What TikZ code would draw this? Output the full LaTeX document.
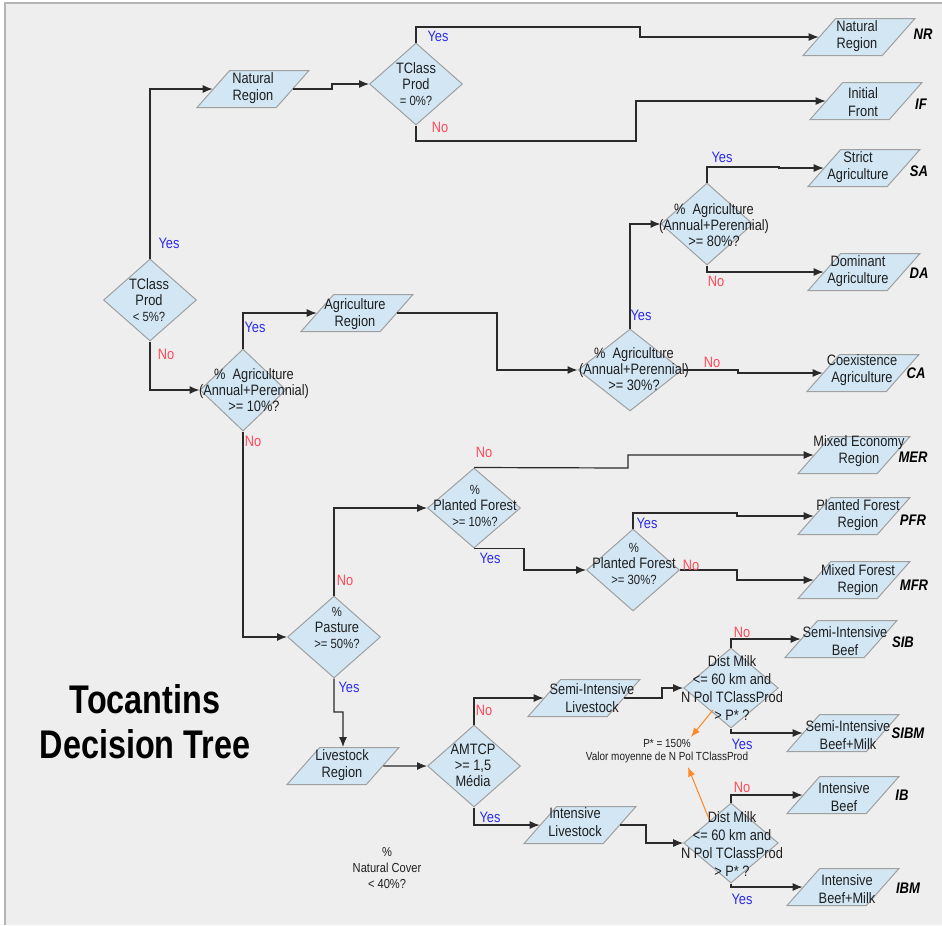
\documentclass[tikz,border=0pt]{standalone}
\usepackage{fontspec}
\setmainfont{Liberation Sans}[FakeStretch=0.85]
\newfontfamily\titlefont{Liberation Sans}[FakeStretch=0.81]
\usetikzlibrary{shapes.geometric,arrows.meta,calc}
\definecolor{bgc}{HTML}{EEEEEE}
\definecolor{framec}{HTML}{B4B4B4}
\definecolor{shfill}{HTML}{D2E6F4}
\definecolor{shdraw}{HTML}{A0A0A0}
\definecolor{linec}{HTML}{2A2A2A}
\definecolor{yesc}{HTML}{2A2AF0}
\definecolor{noc}{HTML}{FF4A5A}
\definecolor{orng}{HTML}{FF8A2A}
\newcommand{\smx}{\fontsize{10}{12}\selectfont}
\tikzset{
  dia/.style={diamond, draw=shdraw, fill=shfill, line width=0.75pt, inner sep=0pt,
    minimum width=69.75pt, minimum height=61.5pt},
  para/.style={trapezium, trapezium left angle=59, trapezium right angle=121,
    trapezium stretches=true, draw=shdraw, fill=shfill, line width=0.75pt, inner sep=1pt,
    minimum width=84pt, minimum height=27.75pt},
  txt/.style={align=center, inner sep=0pt, text=black!88, font=\fontsize{11.3}{12}\selectfont},
  ptxt/.style={align=center, inner sep=0pt, text=black!88, font=\fontsize{11.3}{13}\selectfont},
  dtxt/.style={align=center, inner sep=0pt, text=black!88, font=\fontsize{11.3}{13.5}\selectfont},
  yes/.style={inner sep=0pt, text=yesc, font=\fontsize{11.3}{12}\selectfont},
  no/.style={inner sep=0pt, text=noc, font=\fontsize{11.3}{12}\selectfont},
  code/.style={inner sep=0pt, font=\fontsize{11.5}{12}\selectfont\bfseries\itshape},
  arr/.style={draw=linec, line width=0.9pt, -{Latex[length=7.5pt,width=6pt]}},
  oarr/.style={draw=orng, line width=0.8pt, -{Latex[length=7pt,width=5.5pt]}, color=orng},
}
\newcommand{\ph}{\phantom{x}}
\begin{document}
\begin{tikzpicture}[x=0.75pt,y=-0.75pt]
\useasboundingbox (0,0) rectangle (942,925);
\fill[white] (0,0) rectangle (942,925);
\fill[bgc] (5,3) rectangle (942,925);
\draw[framec, line width=1.5pt] (5,925) -- (5,3) -- (942,3);

% ---------- diamonds ----------
\node[dia] (d1) at (150,300) {};
\node[dia] (d2) at (416,84) {};
\node[dia, minimum width=64.5pt] (d3) at (243,390) {};
\node[dia, minimum width=78pt] (d4) at (630,370) {};
\node[dia, minimum width=69pt] (d5) at (707,224) {};
\node[dia, minimum height=60pt] (d6) at (474,508) {};
\node[dia] (d7) at (633,570) {};
\node[dia] (d8) at (334,637) {};
\node[dia] (d9) at (474,766) {};
\node[dia, minimum width=71pt, minimum height=60pt] (d10) at (731,688) {};
\node[dia, minimum width=71pt, minimum height=60pt] (d11) at (731,843) {};

\node[txt] (t1) at (149,300) {TClass\\Prod\\{\smx < 5\%?}};
\node[txt] (t2) at (416,84) {TClass\\Prod\\{\smx = 0\%?}};
\node[txt] (t3) at (254,390) {\%\ \ Agriculture\\(Annual+Perennial)\\>= 10\%?};
\node[txt] (t4) at (634,369) {\%\ \ Agriculture\\(Annual+Perennial)\\>= 30\%?};
\node[txt] (t5) at (714,225) {\%\ \ Agriculture\\(Annual+Perennial)\\>= 80\%?};
\node[txt] (t6) at (475,506) {{\smx \%}\\Planted Forest\\{\smx >= 10\%?}};
\node[txt] (t7) at (634,564) {{\smx \%}\\Planted Forest\\{\smx >= 30\%?}};
\node[txt] (t8) at (337,628) {{\smx \%}\\Pasture\\{\smx >= 50\%?}};
\node[txt] (t9) at (473,765) {AMTCP\\>= 1,5\\Média};
\node[dtxt] (t10) at (732,688) {Dist Milk\\<= 60 km and\\N Pol TClassProd\\> P* ?};
\node[dtxt] (t11) at (732,844) {Dist Milk\\<= 60 km and\\N Pol TClassProd\\> P* ?};

% ---------- parallelograms ----------
\node[para] (nat) at (253,89) {\ph};
\node[para] (agr) at (357,313) {\ph};
\node[para] (lr) at (343,766) {\ph};
\node[para] (sil) at (584,698) {\ph};
\node[para] (il) at (580,825) {\ph};
\node[para] (nr) at (859,37) {\ph};
\node[para] (if) at (866,101) {\ph};
\node[para] (sa) at (864,168) {\ph};
\node[para] (da) at (864,272) {\ph};
\node[para] (ca) at (863,373) {\ph};
\node[para] (mer) at (854,455) {\ph};
\node[para] (pfr) at (854,516) {\ph};
\node[para] (mfr) at (854,580) {\ph};
\node[para] (sib) at (841,639) {\ph};
\node[para] (sibm) at (843,733) {\ph};
\node[para] (ib) at (843,795) {\ph};
\node[para] (ibm) at (843,887) {\ph};

\node[ptxt] (tnat) at (253,88) {Natural\\Region};
\node[ptxt] (tagr) at (355,314) {Agriculture\\Region};
\node[ptxt] (tlr) at (342,765) {Livestock\\Region};
\node[ptxt] (tsil) at (592,698) {Semi-Intensive\\Livestock};
\node[ptxt] (til) at (575,822) {Intensive\\Livestock};
\node[ptxt] (tnr) at (857,36) {Natural\\Region};
\node[ptxt] (tif) at (863,102) {Initial\\Front};
\node[ptxt] (tsa) at (858,167) {Strict\\Agriculture};
\node[ptxt] (tda) at (858,271) {Dominant\\Agriculture};
\node[ptxt] (tca) at (862,370) {Coexistence\\Agriculture};
\node[ptxt] (tmer) at (859,451) {Mixed Economy\\Region};
\node[ptxt] (tpfr) at (858,515) {Planted Forest\\Region};
\node[ptxt] (tmfr) at (858,580) {Mixed Forest\\Region};
\node[ptxt] (tsib) at (845,641) {Semi-Intensive\\Beef};
\node[ptxt] (tsibm) at (848,735) {Semi-Intensive\\Beef+Milk};
\node[ptxt] (tib) at (844,797) {Intensive\\Beef};
\node[ptxt] (tibm) at (847,889) {Intensive\\Beef+Milk};

% ---------- codes ----------
\node[code] (cnr) at (923,34) {NR};
\node[code] (cif) at (921,104) {IF};
\node[code] (csa) at (919,171) {SA};
\node[code] (cda) at (919,273) {DA};
\node[code] (cca) at (916,373) {CA};
\node[code] (cmer) at (913,457) {MER};
\node[code] (cpfr) at (913,520) {PFR};
\node[code] (cmfr) at (914,585) {MFR};
\node[code] (csib) at (903,642) {SIB};
\node[code] (csibm) at (908,733) {SIBM};
\node[code] (cib) at (902,795) {IB};
\node[code] (cibm) at (908,888) {IBM};

% ---------- connectors ----------
\draw[arr] (d1.north) |- (nat.west);
\draw[arr] (d1.south) |- (d3.west);
\draw[arr] (nat.east) -| (332,84) -- (d2.west);
\draw[arr] (d2.north) |- (640,27) |- (nr.west);
\draw[arr] (d2.south) |- (636,141) |- (if.west);
\draw[arr] (d3.north) |- (agr.west);
\draw[arr] (d3.south) |- (d8.west);
\draw[arr] (agr.east) -| (497,370) -- (d4.west);
\draw[arr] (d4.north) |- (d5.west);
\draw[arr] (d4.east) -- (738,370) |- (ca.west);
\draw[arr] (d5.north) |- (779,167) |- (sa.west);
\draw[arr] (d5.south) |- (da.west);
\draw[arr] (d8.north) |- (d6.west);
\draw[arr] (d6.north) -- (628,468) |- (mer.west);
\draw[arr] (d6.south) -| (524,570) -- (d7.west);
\draw[arr] (d7.north) |- (737,513) |- (pfr.west);
\draw[arr] (d7.east) -- (737,570) |- (mfr.west);
\draw[arr] (d8.south) |- (343,712) -- (lr.north);
\draw[arr] (lr.east) -- (d9.west);
\draw[arr] (d9.north) |- (sil.west);
\draw[arr] (d9.south) |- (il.west);
\draw[arr] (sil.east) -| (662,688) -- (d10.west);
\draw[arr] (il.east) -| (646,843) -- (d11.west);
\draw[arr] (d10.north) |- (sib.west);
\draw[arr] (d10.south) |- (sibm.west);
\draw[arr] (d11.north) |- (ib.west);
\draw[arr] (d11.south) |- (ibm.west);

% ---------- yes / no ----------
\node[yes] (y1) at (169,243) {Yes};
\node[no] (n1) at (166,354) {No};
\node[yes] (y2) at (438,36) {Yes};
\node[no] (n2) at (440,127) {No};
\node[yes] (y3) at (255,327) {Yes};
\node[no] (n3) at (253,441) {No};
\node[yes] (y4) at (641,315) {Yes};
\node[no] (n4) at (712,362) {No};
\node[yes] (y5) at (722,157) {Yes};
\node[no] (n5) at (716,281) {No};
\node[no] (n6) at (484,452) {No};
\node[yes] (y6) at (490,558) {Yes};
\node[yes] (y7) at (647,523) {Yes};
\node[no] (n7) at (691,565) {No};
\node[no] (n8) at (345,580) {No};
\node[yes] (y8) at (349,687) {Yes};
\node[no] (n9) at (484,710) {No};
\node[yes] (y9) at (490,817) {Yes};
\node[no] (n10) at (742,632) {No};
\node[yes] (y10) at (742,744) {Yes};
\node[no] (n11) at (742,787) {No};
\node[yes] (y11) at (742,899) {Yes};

% ---------- notes ----------
\node[align=center, inner sep=0pt, text=black!88, font=\fontsize{8.8}{9.75}\selectfont] (pnote) at (667,751)
  {P* = 150\%\\Valor moyenne de N Pol TClassProd};
\coordinate (o1s) at (713,710);
\coordinate (o1e) at (691,737);
\coordinate (o2s) at (709,819);
\coordinate (o2e) at (688,767);
\draw[oarr] (o1s) -- (o1e);
\draw[oarr] (o2s) -- (o2e);

\node[align=center, inner sep=0pt, text=black!88, font=\fontsize{9.8}{12}\selectfont] (nc) at (387,868)
  {\%\\Natural Cover\\< 40\%?};

\node[align=center, inner sep=0pt, font=\titlefont\fontsize{30}{33.75}\selectfont\bfseries] (title) at (145,722)
  {Tocantins\\Decision Tree};
\end{tikzpicture}
\end{document}
